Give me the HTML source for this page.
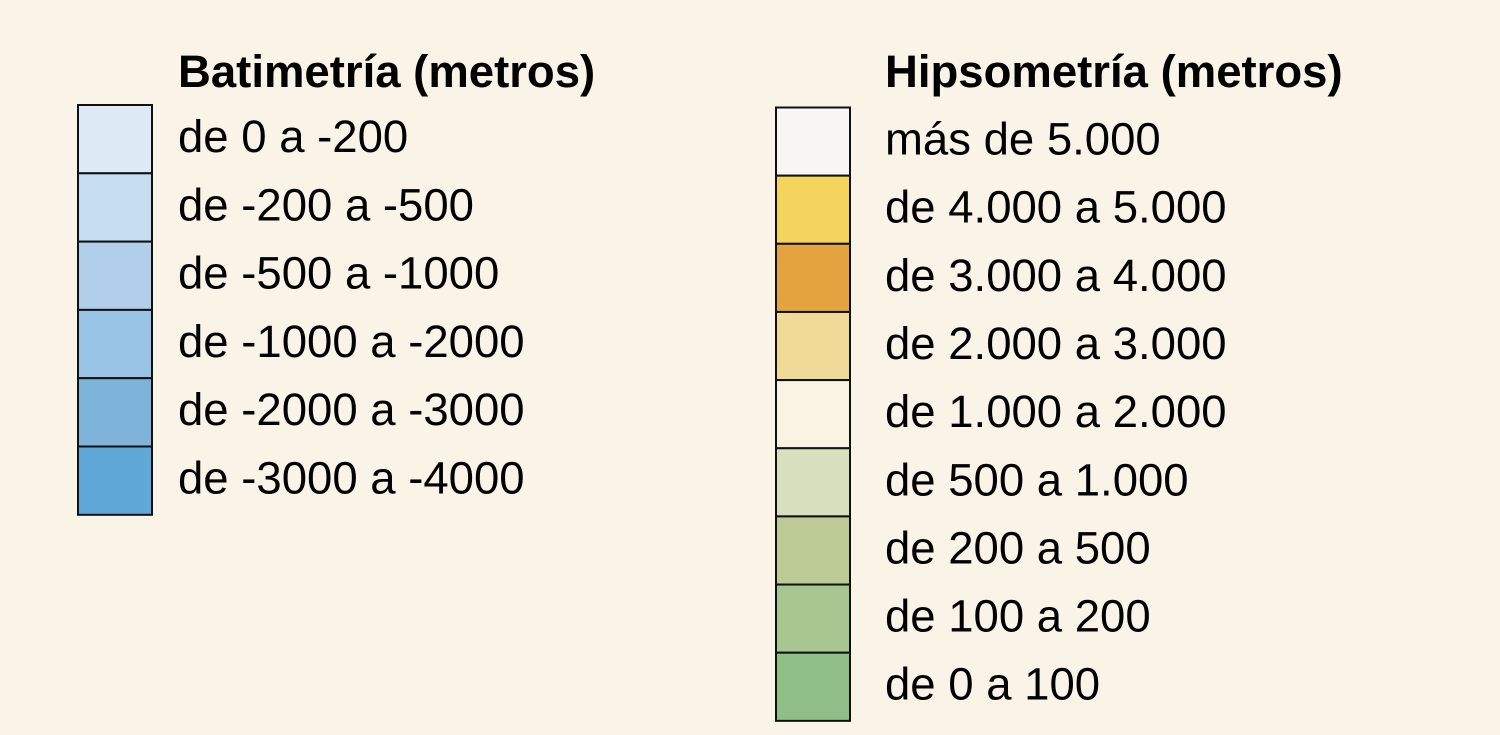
<!DOCTYPE html>
<html><head><meta charset="utf-8"><style>
html,body{margin:0;padding:0;background:#faf3e8;}
svg{display:block;}
text{font-family:"Liberation Sans",Arial,sans-serif;fill:#000;}
</style></head><body>
<svg id="legend" width="1500" height="735" viewBox="0 0 1500 735">
<rect width="1500" height="735" fill="#faf3e8"/>
<text x="178" y="87" font-size="45.5" font-weight="bold">Batimetría (metros)</text>
<text x="885" y="87" font-size="45.5" font-weight="bold">Hipsometría (metros)</text>
<g id="left"></g>
<g id="right"></g>
</svg>
<script>
const bathLabels = ["de 0 a -200","de -200 a -500","de -500 a -1000","de -1000 a -2000","de -2000 a -3000","de -3000 a -4000"];
const bathColors = ["#dde9f5","#c7ddf1","#b1cfea","#99c4e5","#7eb4da","#5fa8d8"];
const hypLabels = ["más de 5.000","de 4.000 a 5.000","de 3.000 a 4.000","de 2.000 a 3.000","de 1.000 a 2.000","de 500 a 1.000","de 200 a 500","de 100 a 200","de 0 a 100"];
const hypColors = ["#f8f7f6","#f3d55e","#e5a33f","#f0da98","#f9f3e4","#d9e0c0","#bccb96","#a8c690","#8fbe86"];
const NS="http://www.w3.org/2000/svg";
function build(g, labels, colors, x0, y0, h, tx){
  labels.forEach((l,i)=>{
    const r=document.createElementNS(NS,'rect');
    r.setAttribute('x',x0);r.setAttribute('y',y0+i*h);
    r.setAttribute('width',74);r.setAttribute('height',h);
    r.setAttribute('fill',colors[i]);r.setAttribute('stroke','#111');r.setAttribute('stroke-width','2');
    
    
    g.appendChild(r);
    const t=document.createElementNS(NS,'text');
    t.setAttribute('x',tx);t.setAttribute('y',y0+i*h+47);t.setAttribute('font-size','45.5');
    t.textContent=l;
    
    
    g.appendChild(t);
  });
}
build(document.getElementById('left'),bathLabels,bathColors,78,105,68.3,178);
build(document.getElementById('right'),hypLabels,hypColors,776,107.5,68.15,885);
</script>
</body></html>
